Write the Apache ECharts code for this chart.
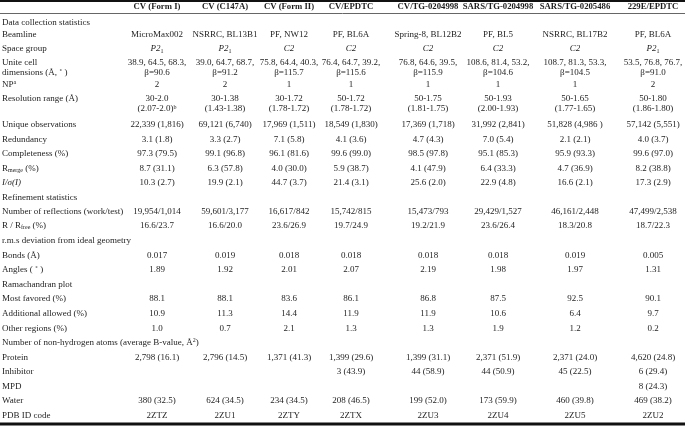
<!DOCTYPE html>
<html>
<head>
<meta charset="utf-8">
<script src="https://cdn.jsdelivr.net/npm/echarts@6/dist/echarts.min.js"></script>
<style>
html, body { margin: 0; padding: 0; background: #fff; }
#myCharts { width: 685px; height: 426px; }
</style>
</head>
<body>
<div id="myCharts"></div>
<script>
// column headers (crystal forms / complexes)
const columns = ['CV (Form I)', 'CV (C147A)', 'CV (Form II)', 'CV/EPDTC', 'CV/TG-0204998', 'SARS/TG-0204998', 'SARS/TG-0205486', '229E/EPDTC'];

// row labels, _{..} = subscript, ^{..} = superscript, *..* = italic
const rowLabels = [
  'Data collection statistics',
  'Beamline',
  'Space group',
  'Unite cell\ndimensions (Å, ˚ )',
  'NP^{a}',
  'Resolution range (Å)',
  'Unique observations',
  'Redundancy',
  'Completeness (%)',
  'R_{merge} (%)',
  '*I/σ(I)*',
  'Refinement statistics',
  'Number of reflections (work/test)',
  'R / R_{free} (%)',
  'r.m.s deviation from ideal geometry',
  'Bonds (Å)',
  'Angles ( ˚ )',
  'Ramachandran plot',
  'Most favored (%)',
  'Additional allowed (%)',
  'Other regions (%)',
  'Number of non-hydrogen atoms (average B-value, Å^{2})',
  'Protein',
  'Inhibitor',
  'MPD',
  'Water',
  'PDB ID code'
]

const cvForm1 = ['', 'MicroMax002', '*P2*_{1}', '38.9, 64.5, 68.3,\nβ=90.6', '2', '30-2.0\n(2.07-2.0)^{b}', '22,339 (1,816)', '3.1 (1.8)', '97.3 (79.5)', '8.7 (31.1)', '10.3 (2.7)',
  '', '19,954/1,014', '16.6/23.7', '', '0.017', '1.89', '', '88.1', '10.9', '1.0', '', '2,798 (16.1)', '', '', '380 (32.5)', '2ZTZ']
const cvC147A = ['', 'NSRRC, BL13B1', '*P2*_{1}', '39.0, 64.7, 68.7,\nβ=91.2', '2', '30-1.38\n(1.43-1.38)', '69,121 (6,740)', '3.3 (2.7)', '99.1 (96.8)', '6.3 (57.8)', '19.9 (2.1)',
  '', '59,601/3,177', '16.6/20.0', '', '0.019', '1.92', '', '88.1', '11.3', '0.7', '', '2,796 (14.5)', '', '', '624 (34.5)', '2ZU1']
const cvForm2 = ['', 'PF, NW12', '*C2*', '75.8, 64.4, 40.3,\nβ=115.7', '1', '30-1.72\n(1.78-1.72)', '17,969 (1,511)', '7.1 (5.8)', '96.1 (81.6)', '4.0 (30.0)', '44.7 (3.7)',
  '', '16,617/842', '23.6/26.9', '', '0.018', '2.01', '', '83.6', '14.4', '2.1', '', '1,371 (41.3)', '', '', '234 (34.5)', '2ZTY']
const cvEpdtc = ['', 'PF, BL6A', '*C2*', '76.4, 64.7, 39.2,\nβ=115.6', '1', '50-1.72\n(1.78-1.72)', '18,549 (1,830)', '4.1 (3.6)', '99.6 (99.0)', '5.9 (38.7)', '21.4 (3.1)',
  '', '15,742/815', '19.7/24.9', '', '0.018', '2.07', '', '86.1', '11.9', '1.3', '', '1,399 (29.6)', '3 (43.9)', '', '208 (46.5)', '2ZTX']
const cvTg4998 = ['', 'Spring-8, BL12B2', '*C2*', '76.8, 64.6, 39.5,\nβ=115.9', '1', '50-1.75\n(1.81-1.75)', '17,369 (1,718)', '4.7 (4.3)', '98.5 (97.8)', '4.1 (47.9)', '25.6 (2.0)',
  '', '15,473/793', '19.2/21.9', '', '0.018', '2.19', '', '86.8', '11.9', '1.3', '', '1,399 (31.1)', '44 (58.9)', '', '199 (52.0)', '2ZU3']
const sarsTg4998 = ['', 'PF, BL5', '*C2*', '108.6, 81.4, 53.2,\nβ=104.6', '1', '50-1.93\n(2.00-1.93)', '31,992 (2,841)', '7.0 (5.4)', '95.1 (85.3)', '6.4 (33.3)', '22.9 (4.8)',
  '', '29,429/1,527', '23.6/26.4', '', '0.018', '1.98', '', '87.5', '10.6', '1.9', '', '2,371 (51.9)', '44 (50.9)', '', '173 (59.9)', '2ZU4']
const sarsTg5486 = ['', 'NSRRC, BL17B2', '*C2*', '108.7, 81.3, 53.3,\nβ=104.5', '1', '50-1.65\n(1.77-1.65)', '51,828 (4,986 )', '2.1 (2.1)', '95.9 (93.3)', '4.7 (36.9)', '16.6 (2.1)',
  '', '46,161/2,448', '18.3/20.8', '', '0.019', '1.97', '', '92.5', '6.4', '1.2', '', '2,371 (24.0)', '45 (22.5)', '', '460 (39.8)', '2ZU5']
const e229Epdtc = ['', 'PF, BL6A', '*P2*_{1}', '53.5, 76.8, 76.7,\nβ=91.0', '2', '50-1.80\n(1.86-1.80)', '57,142 (5,551)', '4.0 (3.7)', '99.6 (97.0)', '8.2 (38.8)', '17.3 (2.9)',
  '', '47,499/2,538', '18.7/22.3', '', '0.005', '1.31', '', '90.1', '9.7', '0.2', '', '4,620 (24.8)', '6 (29.4)', '8 (24.3)', '469 (38.2)', '2ZU2']

const tableData = [cvForm1, cvC147A, cvForm2, cvEpdtc, cvTg4998, sarsTg4998, sarsTg5486, e229Epdtc]

// layout (pixels)
const colX = [157, 225, 289, 351, 428, 498, 575, 653]
const rowY = [22.5, 34.5, 49, 62.5, 84.5, 99, 125, 139.5, 154, 168.3, 182.7, 197.5, 211.7, 225.5, 240.5, 255.5, 270, 284.3, 299, 314, 329, 342.7, 357.7, 372, 386.7, 401, 415.3]
const headerY = 7
const lh = 10
const fs = 9
const fontFamily = '"Liberation Serif", "DejaVu Serif", serif'
const textColor = '#1e1e1e'

const richStyles = {
  n: { fontSize: fs, fontFamily: fontFamily, lineHeight: lh, fill: textColor },
  it: { fontSize: fs, fontFamily: fontFamily, fontStyle: 'italic', lineHeight: lh, fill: textColor },
  sub: { fontSize: 6, fontFamily: fontFamily, lineHeight: 6, verticalAlign: 'bottom', fill: textColor },
  sup: { fontSize: 6, fontFamily: fontFamily, lineHeight: 6, verticalAlign: 'top', fill: textColor }
}

function toRich(s) {
  const re = /_\{([^}]*)\}|\^\{([^}]*)\}|\*([^*]*)\*|([^_^*]+)/g
  let out = ''
  let m
  while ((m = re.exec(s))) {
    if (m[1] != null) out += '{sub|' + m[1] + '}'
    else if (m[2] != null) out += '{sup|' + m[2] + '}'
    else if (m[3] != null) out += '{it|' + m[3] + '}'
    else out += '{n|' + m[4] + '}'
  }
  return out
}

function cell(text, x, y, align) {
  const lines = text.split('\n').length
  const cy = y + (lines - 1) * lh / 2
  const style = {
    text: text,
    align: align,
    verticalAlign: 'middle',
    fill: textColor,
    fontSize: fs,
    fontFamily: fontFamily,
    lineHeight: lh
  }
  if (/[_^*]/.test(text)) {
    style.text = toRich(text)
    style.rich = richStyles
  }
  return { type: 'text', x: x, y: cy, silent: true, style: style }
}

const elements = []
// rules
elements.push({ type: 'line', shape: { x1: 0, y1: 1, x2: 685, y2: 1 }, style: { stroke: '#111', lineWidth: 2 } })
elements.push({ type: 'line', shape: { x1: 0, y1: 13.5, x2: 685, y2: 13.5 }, style: { stroke: '#666', lineWidth: 1 } })
elements.push({ type: 'line', shape: { x1: 0, y1: 424, x2: 685, y2: 424 }, style: { stroke: '#111', lineWidth: 3 } })

// header
columns.forEach((c, i) => {
  elements.push({
    type: 'text', x: colX[i], y: headerY, silent: true,
    style: { text: c, align: 'center', verticalAlign: 'middle', fill: textColor, fontSize: 8.7, fontWeight: 'bold', fontFamily: fontFamily }
  })
})

// row labels + cells
rowLabels.forEach((label, r) => {
  elements.push(cell(label, 2, rowY[r], 'left'))
  tableData.forEach((col, c) => {
    if (col[r]) elements.push(cell(col[r], colX[c], rowY[r], 'center'))
  })
})

const myCharts = echarts.init(document.getElementById('myCharts'))
const options = {
  backgroundColor: '#fff',
  animation: false,
  graphic: { elements: elements }
}
myCharts.setOption(options)
</script>
</body>
</html>
